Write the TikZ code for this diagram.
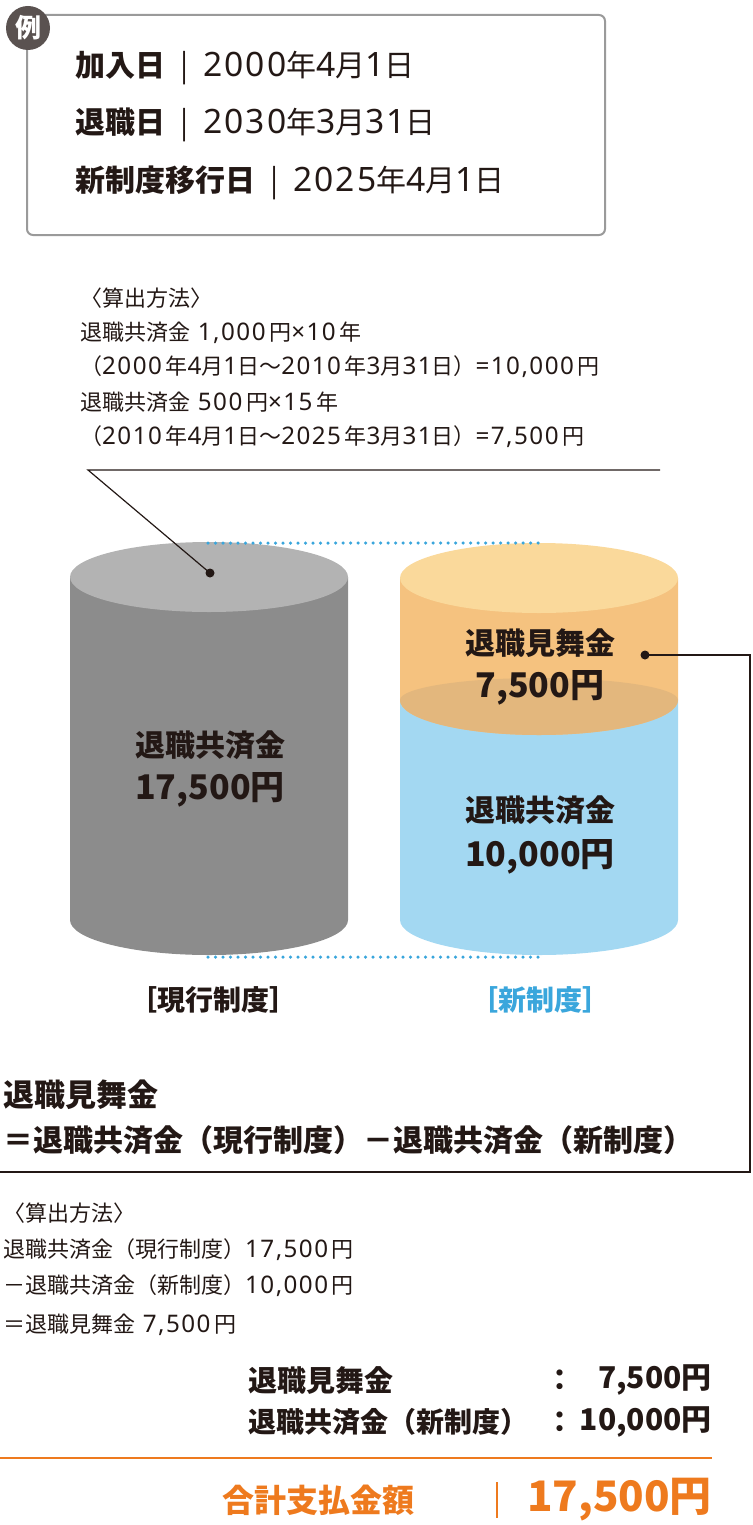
\documentclass[tikz,border=0pt]{standalone}
\usepackage{fontspec}
\setmainfont{Noto Sans CJK JP}
\newfontfamily\lat{Noto Sans}[LetterSpace=6,Scale=1.1]
\newfontfamily\lath{Noto Sans}[LetterSpace=6,Scale=1.12]
\newcommand{\nm}[1]{{\lat #1}}
\newcommand{\nh}[1]{{\lath #1}}
\definecolor{dgray}{HTML}{8C8C8C}
\definecolor{lgray}{HTML}{B3B3B3}
\definecolor{otop}{HTML}{FAD99B}
\definecolor{obody}{HTML}{F5C27F}
\definecolor{omid}{HTML}{E3B77D}
\definecolor{bbody}{HTML}{A3D8F2}
\definecolor{bdot}{HTML}{3AA6DC}
\definecolor{orng}{HTML}{EE7A1E}
\definecolor{txt}{HTML}{231815}
\definecolor{brd}{HTML}{9A9A9A}
\begin{document}
\begin{tikzpicture}[x=1pt,y=-1pt,
  hd/.style={anchor=west,inner sep=0pt,font=\fontsize{30}{30}\selectfont,text=txt},
  sm/.style={anchor=west,inner sep=0pt,font=\fontsize{22}{22}\selectfont,text=txt},
  md/.style={anchor=west,inner sep=0pt,font=\fontsize{29}{29}\selectfont\bfseries,text=txt},
  cl/.style={inner sep=0pt,font=\fontsize{30}{30}\selectfont\bfseries,text=txt},
  cn/.style={inner sep=0pt,font=\fontsize{34}{34}\selectfont\bfseries,text=txt},
  dots/.style={bdot,line width=3.5pt,line cap=round,dash pattern=on 0pt off 7.5pt}]
\useasboundingbox (0,0) rectangle (752,1525);
% example box
\draw[brd,line width=2pt,rounded corners=6pt] (27,15) rectangle (605,235);
\node[circle,fill=txt!75,minimum size=44pt,inner sep=0pt,text=white,font=\fontsize{26}{26}\selectfont\bfseries] (rei) at (28,28) {例};
\node[hd] (l1) at (75,68) {\textbf{加入日}\enspace{\color{txt}|}\enspace \nh{2000}年\nh{4}月\nh{1}日};
\node[hd] (l2) at (75,125) {\textbf{退職日}\enspace{\color{txt}|}\enspace \nh{2030}年\nh{3}月\nh{31}日};
\node[hd] (l3) at (75,183) {\textbf{新制度移行日}\enspace{\color{txt}|}\enspace \nh{2025}年\nh{4}月\nh{1}日};
% method 1
\node[sm] (m1) at (80,298) {〈算出方法〉};
\node[sm] (m2) at (80,333) {退職共済金\nm{ 1,000}\,円\nm{×10}\,年};
\node[sm] (m3) at (80,367) {（\nm{2000}\,年\nm{4}月\nm{1}日～\nm{2010}\,年\nm{3}月\nm{31}日）\nm{=10,000}\,円};
\node[sm] (m4) at (80,402) {退職共済金\nm{ 500}\,円\nm{×15}\,年};
\node[sm] (m5) at (80,437) {（\nm{2010}\,年\nm{4}月\nm{1}日～\nm{2025}\,年\nm{3}月\nm{31}日）\nm{=7,500}\,円};
% left cylinder
\fill[dgray] (70,577) -- (70,920) arc[start angle=180,end angle=0,x radius=139,y radius=35] -- (348,577) -- cycle;
\fill[lgray] (209,577) ellipse[x radius=139,y radius=35];
% right cylinder
\fill[bbody] (400,700) -- (400,920) arc[start angle=180,end angle=0,x radius=139,y radius=35] -- (678,700) -- cycle;
\fill[obody] (400,578) -- (400,700) arc[start angle=180,end angle=0,x radius=139,y radius=35] -- (678,578) -- cycle;
\fill[omid] (539,700) ellipse[x radius=139,y radius=22];
\fill[obody] (400,578) rectangle (678,700);
\fill[omid] (400,700) arc[start angle=180,end angle=0,x radius=139,y radius=22] arc[start angle=0,end angle=180,x radius=139,y radius=22];
\fill[omid] (400,700) arc[start angle=180,end angle=360,x radius=139,y radius=22] -- (678,700) arc[start angle=0,end angle=180,x radius=139,y radius=35];
\fill[otop] (539,578) ellipse[x radius=139,y radius=35];
% dotted guides
\draw[dots] (208,543) -- (545,543);
\draw[dots] (208,957) -- (545,957);
% pointer to left cylinder
\fill[txt] (210,573) circle (4.5pt) coordinate (d1);
\draw[txt,line width=1.2pt] (660,470) -- (88,470) -- (d1);
% labels
\node[cl] (a1) at (210,745) {退職共済金};
\node[cn] (a2) at (210,790) {17,500円};
\node[cl] (b1) at (540,643) {退職見舞金};
\node[cn] (b2) at (540,688) {7,500円};
\node[cl] (c1) at (540,810) {退職共済金};
\node[cn] (c2) at (540,857) {10,000円};
\fill[txt] (645,655) circle (4.5pt) coordinate (d2);
\draw[txt,line width=1.2pt] (d2) -- (750,655) -- (750,1172) -- (0,1172);
\node[cl,font=\fontsize{28}{28}\selectfont\bfseries] (g1) at (213,1000) {［現行制度］};
\node[cl,text=bdot,font=\fontsize{28}{28}\selectfont\bfseries] (g2) at (540,1000) {［新制度］};
% formula
\node[md,font=\fontsize{31}{31}\selectfont\bfseries] (f1) at (3,1095) {退職見舞金};
\node[md,font=\fontsize{30}{30}\selectfont\bfseries] (f2) at (3,1140) {＝退職共済金（現行制度）－退職共済金（新制度）};
\node[sm] (n1) at (3,1213) {〈算出方法〉};
\node[sm] (n2) at (3,1250) {退職共済金（現行制度）\nm{17,500}\,円};
\node[sm] (n3) at (3,1286) {－退職共済金（新制度）\nm{10,000}\,円};
\node[sm] (n4) at (3,1325) {＝退職見舞金\nm{ 7,500}\,円};
% summary
\node[md] (s1) at (248,1380) {退職見舞金};
\node[md] (s1c) at (545,1380) {：};
\node[md,anchor=east,font=\fontsize{30}{30}\selectfont\bfseries] (s1v) at (712,1380) {7,500円};
\node[md,font=\fontsize{28}{28}\selectfont\bfseries] (s2) at (248,1422) {退職共済金（新制度）};
\node[md] (s2c) at (545,1422) {：};
\node[md,anchor=east,font=\fontsize{30}{30}\selectfont\bfseries] (s2v) at (712,1422) {10,000円};
\draw[orng,line width=1.5pt] (0,1458) -- (712,1458);
\node[md,text=orng,font=\fontsize{32}{32}\selectfont\bfseries] (t1) at (222,1500) {合計支払金額};
\draw[orng,line width=1.3pt] (497,1482) -- (497,1518);
\node[md,anchor=east,text=orng,font=\fontsize{42}{42}\selectfont\bfseries] (t3) at (712,1500) {17,500円};
\end{tikzpicture}
\end{document}
